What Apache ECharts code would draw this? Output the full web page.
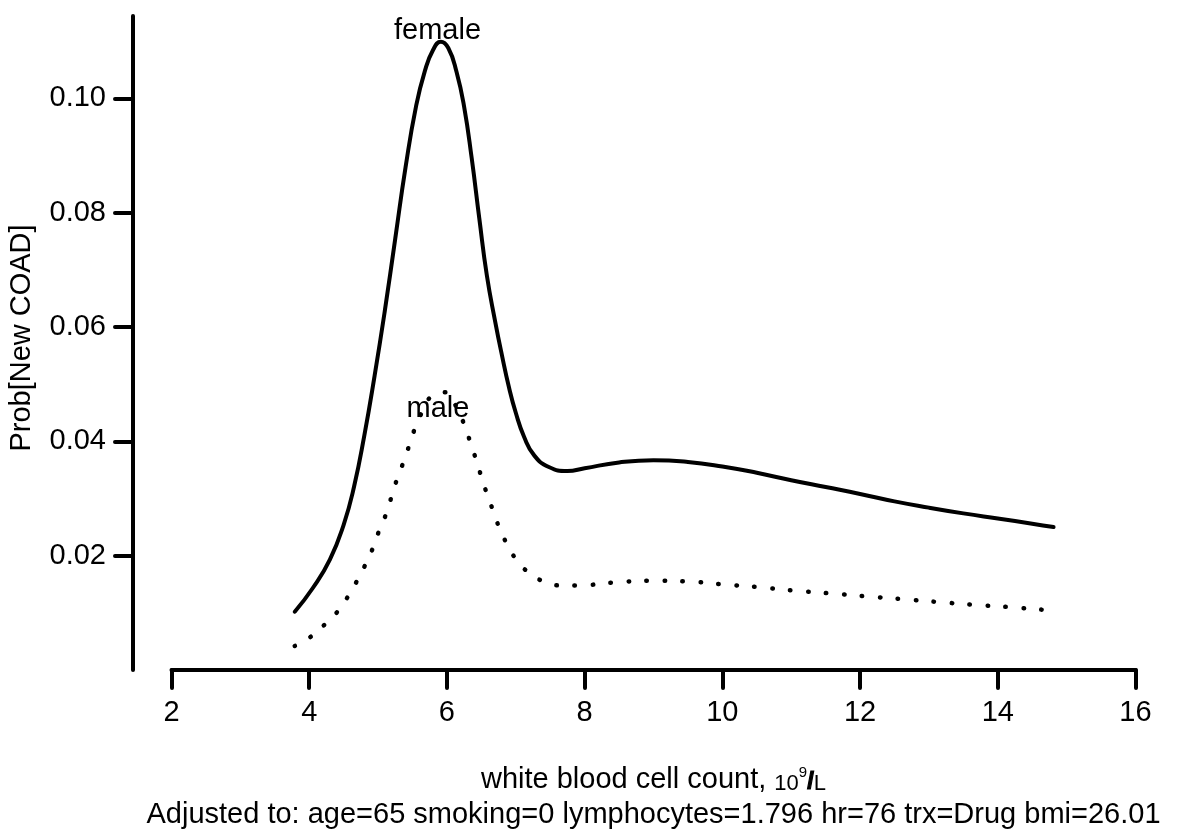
<!DOCTYPE html>
<html>
<head>
<meta charset="utf-8">
<title>Prob[New COAD] vs white blood cell count</title>
<script src="https://cdn.jsdelivr.net/npm/echarts@6/dist/echarts.min.js"></script>
<style>
  html, body { margin: 0; padding: 0; background: #fff; }
  #chart { width: 1186px; height: 832px; }
</style>
</head>
<body>
<div id="chart"></div>
<script>
// Predicted probability of new COAD by white blood cell count, by sex
const wbcFemale = [3.79, 4.05, 4.30, 4.50, 4.65, 4.80, 4.95, 5.10, 5.25, 5.40, 5.55, 5.68, 5.80, 5.91,
  6.02, 6.14, 6.25, 6.36, 6.47, 6.58, 6.70, 6.80, 6.90, 7.00, 7.12, 7.27, 7.48, 7.75,
  8.00, 8.50, 9.00, 9.50, 10.00, 10.50, 11.00, 11.50, 12.00, 12.50, 13.00, 13.50, 14.00, 14.50, 14.81];
const probFemale = [0.0102, 0.0143, 0.0193, 0.0254, 0.0320, 0.0410, 0.0515, 0.0630, 0.0755, 0.0880, 0.0985, 0.1048, 0.1085, 0.1099,
  0.1088, 0.1046, 0.0985, 0.0895, 0.0790, 0.0690, 0.0610, 0.0550, 0.0495, 0.0450, 0.0408, 0.0375, 0.0355, 0.0348,
  0.0353, 0.0363, 0.0367, 0.0364, 0.0356, 0.0345, 0.0332, 0.0320, 0.0308, 0.0295, 0.0284, 0.0274, 0.0265, 0.0256, 0.0250];

const wbcMale = [3.79, 4.02, 4.23, 4.41, 4.56, 4.69, 4.81, 4.92, 5.01, 5.11, 5.19, 5.27, 5.36, 5.45, 5.53,
  5.63, 5.77, 5.99, 6.12, 6.24, 6.33, 6.41, 6.49, 6.57, 6.66, 6.75, 6.86, 6.99, 7.16, 7.38,
  7.63, 7.89, 8.42, 8.95, 9.47, 9.99, 10.51, 11.04, 11.56, 12.08, 12.61, 13.13, 13.65, 14.17, 14.70, 14.81];
const probMale = [0.0042, 0.0058, 0.0080, 0.0102, 0.0128, 0.0155, 0.0183, 0.0212, 0.0242, 0.0271, 0.0301, 0.0332, 0.0361, 0.0392, 0.0421,
  0.0449, 0.0478, 0.0486, 0.0464, 0.0433, 0.0402, 0.0373, 0.0342, 0.0312, 0.0282, 0.0252, 0.0223, 0.0196, 0.0173, 0.0156,
  0.0148, 0.0148, 0.0153, 0.0156, 0.0155, 0.0150, 0.0145, 0.0139, 0.0134, 0.0129, 0.0124, 0.0119, 0.0114, 0.0110, 0.0105, 0.0104];

const xTicks = [2, 4, 6, 8, 10, 12, 14, 16];
const yTicks = [0.02, 0.04, 0.06, 0.08, 0.10];
const curveNames = ['female', 'male'];
const xTitle = 'white blood cell count, ';
const adjustText = 'Adjusted to: age=65 smoking=0 lymphocytes=1.796 hr=76 trx=Drug bmi=26.01';
const yTitle = 'Prob[New COAD]';

const FONT = '"Liberation Sans", Arial, Helvetica, sans-serif';
const BLACK = '#000000';

const pairs = (xs, ys) => xs.map((x, i) => [x, ys[i]]);

const chart = echarts.init(document.getElementById('chart'), null, { renderer: 'canvas' });

const option = {
  backgroundColor: '#ffffff',
  animation: false,
  grid: [
    // plotting region; its left edge carries the y axis
    { left: 133, right: 50.5, top: 16, height: 654, outerBoundsMode: 'none', containLabel: false },
    // same region, starting at x = 2, carries the x axis
    { left: 171.5, right: 50.5, top: 16, height: 654, outerBoundsMode: 'none', containLabel: false }
  ],
  xAxis: [
    {
      gridIndex: 0, type: 'value', min: 2 - 38.5 / 68.857, max: 16,
      show: false, splitLine: { show: false }
    },
    {
      gridIndex: 1, type: 'value', min: 2, max: 16, interval: 2,
      axisLine: { show: true, onZero: false, lineStyle: { color: BLACK, width: 4, cap: 'round' } },
      axisTick: { show: true, length: 18, inside: false, lineStyle: { color: BLACK, width: 4, cap: 'round' } },
      axisLabel: {
        show: true, margin: 28, color: BLACK, fontSize: 29, fontFamily: FONT,
        customValues: xTicks, formatter: v => String(v), hideOverlap: false
      },
      splitLine: { show: false }
    }
  ],
  yAxis: [
    {
      gridIndex: 0, type: 'value', min: 0, max: 0.1144,
      axisLine: { show: true, lineStyle: { color: BLACK, width: 4, cap: 'round' } },
      axisTick: { show: true, length: 18, inside: false, customValues: yTicks,
        lineStyle: { color: BLACK, width: 4, cap: 'round' } },
      axisLabel: {
        show: true, margin: 27, color: BLACK, fontSize: 29, fontFamily: FONT,
        customValues: yTicks, formatter: v => v.toFixed(2), hideOverlap: false
      },
      splitLine: { show: false }
    },
    { gridIndex: 1, type: 'value', min: 0, max: 0.1144, show: false, splitLine: { show: false } }
  ],
  series: [
    {
      name: curveNames[0], type: 'line', xAxisIndex: 0, yAxisIndex: 0,
      data: pairs(wbcFemale, probFemale),
      showSymbol: false, smooth: 0.5, clip: false,
      lineStyle: { color: BLACK, width: 4, cap: 'round', join: 'round' },
      markPoint: {
        symbol: 'circle', symbolSize: 0, silent: true,
        label: { show: true, position: 'inside', formatter: curveNames[0], color: BLACK, fontSize: 29, fontFamily: FONT },
        data: [{ coord: [5.863, 0.11180] }]
      }
    },
    {
      name: curveNames[1], type: 'line', xAxisIndex: 0, yAxisIndex: 0,
      data: pairs(wbcMale, probMale),
      showSymbol: false, smooth: 0.5, clip: false,
      lineStyle: { color: BLACK, width: 4.5, type: [0.5, 17.5], cap: 'round', join: 'round' },
      markPoint: {
        symbol: 'circle', symbolSize: 0, silent: true,
        label: { show: true, position: 'inside', formatter: curveNames[1], color: BLACK, fontSize: 29, fontFamily: FONT },
        data: [{ coord: [5.870, 0.04560] }]
      }
    }
  ],
  graphic: [
    {
      type: 'text', x: 653.5, y: 780, silent: true,
      style: {
        text: '{a|' + xTitle + '}{b|10}{c|9}{d|/}{b|L}',
        align: 'center', verticalAlign: 'middle',
        rich: {
          a: { fontSize: 29, lineHeight: 29, fontFamily: FONT, fill: BLACK },
          b: { fontSize: 22, lineHeight: 24, verticalAlign: 'bottom', fontFamily: FONT, fill: BLACK },
          c: { fontSize: 15, lineHeight: 22, verticalAlign: 'top', fontFamily: FONT, fill: BLACK },
          d: { fontSize: 24, lineHeight: 26, verticalAlign: 'bottom', fontWeight: 'bold', fontFamily: FONT,
               fill: BLACK, stroke: BLACK, lineWidth: 1.2 }
        }
      }
    },
    {
      type: 'text', x: 653.5, y: 815, silent: true,
      style: { text: adjustText, fontSize: 29, fontFamily: FONT, fill: BLACK, align: 'center', verticalAlign: 'middle' }
    },
    {
      type: 'text', x: 22, y: 338, rotation: Math.PI / 2, silent: true,
      style: { text: yTitle, fontSize: 29, fontFamily: FONT, fill: BLACK, align: 'center', verticalAlign: 'middle' }
    }
  ]
};

chart.setOption(option);
</script>
</body>
</html>
